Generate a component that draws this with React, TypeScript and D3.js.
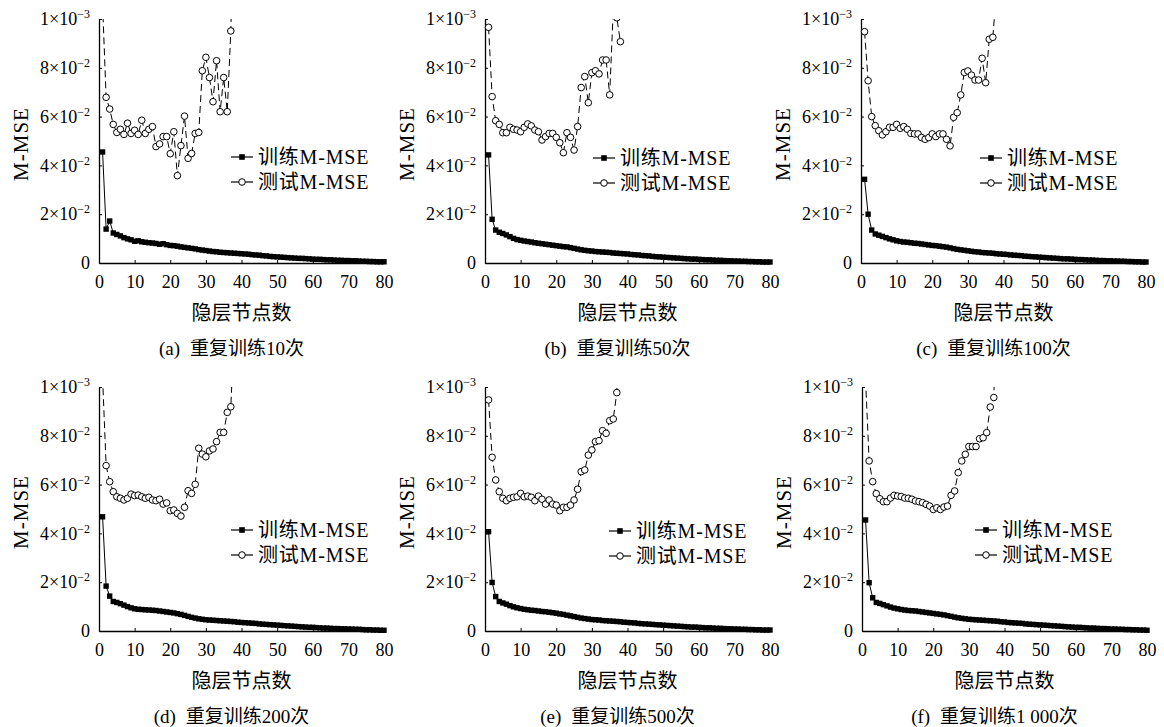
import React, { useEffect, useRef } from "react";
import * as d3 from "d3";

// axis ticks
const xTicks = [0, 10, 20, 30, 40, 50, 60, 70, 80];
const yTicks = [0, 0.02, 0.04, 0.06, 0.08, 0.1];
// labels as printed in the figure (base, superscript)
const yTickLabels = [
  ["0", ""],
  ["2×10", "−2"],
  ["4×10", "−2"],
  ["6×10", "−2"],
  ["8×10", "−2"],
  ["1×10", "−3"],
];

const panelTags = ["(a)", "(b)", "(c)", "(d)", "(e)", "(f)"];
const captions = ["重复训练10次", "重复训练50次", "重复训练100次", "重复训练200次", "重复训练500次", "重复训练1 000次"];
const seriesNames = ["训练M-MSE", "测试M-MSE"];
const xTitle = "隐层节点数";
const yTitle = "M-MSE";

// training M-MSE, hidden nodes 1..80
const trainA = [
  0.0455, 0.0139, 0.0172, 0.0123, 0.0117, 0.0111, 0.0104, 0.0099, 0.0095, 0.0089,
  0.0091, 0.0087, 0.0085, 0.0083, 0.0082, 0.008, 0.0077, 0.0079, 0.0075, 0.0072,
  0.0071, 0.0069, 0.0066, 0.0064, 0.0062, 0.006, 0.0058, 0.0055, 0.0053, 0.0051,
  0.0049, 0.0047, 0.0046, 0.0044, 0.0043, 0.0042, 0.0041, 0.004, 0.0039, 0.0038,
  0.0037, 0.0036, 0.0034, 0.0033, 0.0032, 0.003, 0.0029, 0.0027, 0.0026, 0.0025,
  0.0024, 0.0023, 0.0022, 0.0021, 0.002, 0.0019, 0.0019, 0.0018, 0.0017, 0.0016,
  0.0015, 0.0015, 0.0014, 0.0013, 0.0013, 0.0012, 0.0011, 0.0011, 0.001, 0.001,
  0.0009, 0.0009, 0.0008, 0.0007, 0.0007, 0.0006, 0.0006, 0.0005, 0.0005, 0.0005,
];
const trainB = [
  0.0443, 0.0179, 0.0135, 0.0126, 0.0121, 0.0115, 0.0108, 0.0101, 0.0096, 0.0093,
  0.009, 0.0088, 0.0086, 0.0083, 0.0081, 0.0079, 0.0077, 0.0075, 0.0073, 0.0071,
  0.0069, 0.0067, 0.0066, 0.0063, 0.006, 0.0057, 0.0054, 0.0052, 0.005, 0.0049,
  0.0047, 0.0046, 0.0045, 0.0044, 0.0043, 0.0041, 0.004, 0.0039, 0.0038, 0.0037,
  0.0035, 0.0034, 0.0033, 0.0031, 0.003, 0.0029, 0.0027, 0.0026, 0.0025, 0.0024,
  0.0023, 0.0022, 0.0021, 0.002, 0.0019, 0.0018, 0.0017, 0.0016, 0.0016, 0.0015,
  0.0014, 0.0013, 0.0013, 0.0012, 0.0011, 0.0011, 0.001, 0.0009, 0.0009, 0.0008,
  0.0008, 0.0007, 0.0007, 0.0006, 0.0006, 0.0005, 0.0005, 0.0004, 0.0004, 0.0004,
];
const trainC = [
  0.0343, 0.02, 0.0135, 0.0119, 0.0114, 0.0109, 0.0104, 0.0099, 0.0095, 0.0091,
  0.0088, 0.0086, 0.0085, 0.0083, 0.0081, 0.008, 0.0078, 0.0076, 0.0074, 0.0072,
  0.0071, 0.0069, 0.0067, 0.0065, 0.0062, 0.0059, 0.0056, 0.0054, 0.0052, 0.005,
  0.0048, 0.0046, 0.0045, 0.0043, 0.0042, 0.0041, 0.004, 0.0038, 0.0037, 0.0036,
  0.0035, 0.0033, 0.0032, 0.0031, 0.003, 0.0028, 0.0027, 0.0026, 0.0025, 0.0024,
  0.0023, 0.0022, 0.0021, 0.002, 0.0019, 0.0018, 0.0017, 0.0017, 0.0016, 0.0015,
  0.0014, 0.0014, 0.0013, 0.0012, 0.0012, 0.0011, 0.001, 0.001, 0.0009, 0.0009,
  0.0008, 0.0008, 0.0007, 0.0007, 0.0006, 0.0006, 0.0005, 0.0005, 0.0004, 0.0004,
];
const trainD = [
  0.0468, 0.0184, 0.0143, 0.0121, 0.0117, 0.0112, 0.0106, 0.01, 0.0095, 0.0091,
  0.0089, 0.0088, 0.0087, 0.0086, 0.0085, 0.0084, 0.0082, 0.008, 0.0078, 0.0076,
  0.0074, 0.0071, 0.0068, 0.0064, 0.006, 0.0056, 0.0053, 0.005, 0.0048, 0.0046,
  0.0045, 0.0044, 0.0043, 0.0042, 0.0041, 0.004, 0.0039, 0.0038, 0.0036, 0.0035,
  0.0034, 0.0033, 0.0032, 0.0031, 0.0029, 0.0028, 0.0027, 0.0026, 0.0025, 0.0024,
  0.0023, 0.0022, 0.0021, 0.002, 0.0019, 0.0018, 0.0017, 0.0016, 0.0015, 0.0015,
  0.0014, 0.0013, 0.0012, 0.0012, 0.0011, 0.001, 0.001, 0.0009, 0.0009, 0.0008,
  0.0008, 0.0007, 0.0007, 0.0006, 0.0005, 0.0005, 0.0004, 0.0004, 0.0003, 0.0003,
];
const trainE = [
  0.0407, 0.0199, 0.0141, 0.0121, 0.0115, 0.011, 0.0104, 0.0099, 0.0095, 0.0092,
  0.0089, 0.0087, 0.0085, 0.0084, 0.0082, 0.008, 0.0079, 0.0077, 0.0075, 0.0073,
  0.007, 0.0068, 0.0065, 0.0062, 0.0059, 0.0056, 0.0053, 0.0051, 0.0049, 0.0047,
  0.0046, 0.0045, 0.0043, 0.0042, 0.0041, 0.004, 0.0039, 0.0038, 0.0036, 0.0035,
  0.0034, 0.0033, 0.0031, 0.003, 0.0029, 0.0028, 0.0027, 0.0026, 0.0025, 0.0024,
  0.0023, 0.0022, 0.0021, 0.002, 0.0019, 0.0018, 0.0017, 0.0016, 0.0016, 0.0015,
  0.0014, 0.0013, 0.0013, 0.0012, 0.0011, 0.0011, 0.001, 0.0009, 0.0009, 0.0008,
  0.0008, 0.0007, 0.0007, 0.0006, 0.0006, 0.0005, 0.0005, 0.0004, 0.0004, 0.0004,
];
const trainF = [
  0.0455, 0.0198, 0.0136, 0.0117, 0.0113, 0.0108, 0.0103, 0.0098, 0.0094, 0.0091,
  0.0088, 0.0086, 0.0084, 0.0083, 0.0082, 0.008, 0.0078, 0.0076, 0.0074, 0.0072,
  0.007, 0.0068, 0.0066, 0.0063, 0.006, 0.0057, 0.0054, 0.0052, 0.005, 0.0048,
  0.0047, 0.0046, 0.0045, 0.0044, 0.0043, 0.0042, 0.0041, 0.004, 0.0038, 0.0037,
  0.0035, 0.0034, 0.0033, 0.0032, 0.0031, 0.0029, 0.0028, 0.0027, 0.0026, 0.0025,
  0.0024, 0.0023, 0.0022, 0.0021, 0.002, 0.0019, 0.0018, 0.0017, 0.0016, 0.0015,
  0.0015, 0.0014, 0.0013, 0.0012, 0.0012, 0.0011, 0.001, 0.001, 0.0009, 0.0008,
  0.0008, 0.0007, 0.0007, 0.0006, 0.0006, 0.0005, 0.0005, 0.0004, 0.0004, 0.0003,
];

// test M-MSE, hidden nodes 1..n (values above 0.1 run off the top of the plot)
const testA = [
  0.106, 0.0679, 0.0631, 0.0568, 0.0535, 0.0548, 0.0527, 0.0573, 0.0531, 0.0544,
  0.0527, 0.0585, 0.0531, 0.0548, 0.0559, 0.0477, 0.0488, 0.0518, 0.0518, 0.0448,
  0.0538, 0.0358, 0.0481, 0.0602, 0.0429, 0.0449, 0.0531, 0.0535, 0.0788, 0.0843,
  0.076, 0.0661, 0.0829, 0.062, 0.076, 0.062, 0.0951, 0.15,
];
const testB = [
  0.0966, 0.0682, 0.0583, 0.0568, 0.0534, 0.0534, 0.0556, 0.0548, 0.0545, 0.0538,
  0.0556, 0.057, 0.0562, 0.0545, 0.0538, 0.0504, 0.0518, 0.0531, 0.0531, 0.0515,
  0.0493, 0.0452, 0.0534, 0.0515, 0.0463, 0.0559, 0.0719, 0.0764, 0.0657, 0.078,
  0.0788, 0.0775, 0.0832, 0.0832, 0.0689, 0.104, 0.1005, 0.0907,
];
const testC = [
  0.0948, 0.0747, 0.06, 0.0563, 0.0542, 0.0525, 0.0538, 0.0556, 0.0556, 0.0568,
  0.0552, 0.0559, 0.0548, 0.0531, 0.0529, 0.0529, 0.0514, 0.0507, 0.0514, 0.0529,
  0.0518, 0.0529, 0.0529, 0.0507, 0.048, 0.0597, 0.0616, 0.0689, 0.0781, 0.0787,
  0.077, 0.075, 0.075, 0.0839, 0.0739, 0.0917, 0.0925, 0.111,
];
const testD = [
  0.104, 0.0678, 0.0612, 0.0571, 0.055, 0.0544, 0.0537, 0.0544, 0.0561, 0.0555,
  0.0557, 0.055, 0.0544, 0.0548, 0.0537, 0.0534, 0.054, 0.052, 0.0525, 0.0493,
  0.0496, 0.0482, 0.0471, 0.0507, 0.0575, 0.0564, 0.0601, 0.0749, 0.0725, 0.0714,
  0.0738, 0.0746, 0.0776, 0.0814, 0.0814, 0.0896, 0.0919, 0.125,
];
const testE = [
  0.0947, 0.0712, 0.0619, 0.0571, 0.0544, 0.0534, 0.0544, 0.0548, 0.055, 0.0564,
  0.055, 0.0553, 0.0548, 0.0534, 0.0553, 0.054, 0.052, 0.0537, 0.052, 0.0516,
  0.0493, 0.0507, 0.0507, 0.0516, 0.0537, 0.0581, 0.0653, 0.066, 0.0721, 0.0742,
  0.0776, 0.078, 0.0821, 0.081, 0.0862, 0.0869, 0.0977, 0.15,
];
const testF = [
  0.103, 0.0697, 0.0612, 0.0563, 0.0542, 0.053, 0.053, 0.0545, 0.0556, 0.0553,
  0.0551, 0.0545, 0.0544, 0.054, 0.0533, 0.053, 0.0526, 0.0519, 0.0512, 0.0498,
  0.0505, 0.0498, 0.0508, 0.0512, 0.0556, 0.0574, 0.0649, 0.0697, 0.0724, 0.0756,
  0.0756, 0.0756, 0.0788, 0.0792, 0.0813, 0.0918, 0.0957, 0.15,
];

const trainSeries = [trainA, trainB, trainC, trainD, trainE, trainF];
const testSeries = [testA, testB, testC, testD, testE, testF];

// layout: axis origin (top-left of plot area) and legend anchor per panel
const plotW = 285;
const plotH = 244;
const layout = [
  { ox: 99, oy: 19, lx: 231, ly: 157 },
  { ox: 485, oy: 19, lx: 593, ly: 158 },
  { ox: 861, oy: 19, lx: 980, ly: 158 },
  { ox: 99, oy: 387, lx: 231, ly: 530 },
  { ox: 485, oy: 387, lx: 609, ly: 531 },
  { ox: 862, oy: 387, lx: 975, ly: 530 },
];

const FONT = "'Liberation Serif', 'Times New Roman', 'Noto Sans CJK SC', serif";

const App = () => {
  const svgRef = useRef(null);

  useEffect(() => {
    if (!svgRef.current) return;
    const svg = d3.select(svgRef.current);
    svg.selectAll("*").remove();

    const x = d3.scaleLinear().domain([0, 80]).range([0, plotW]);
    const y = d3.scaleLinear().domain([0, 0.1]).range([plotH, 0]);
    const line = d3
      .line<number>()
      .x((d, i) => x(i + 1))
      .y((d) => y(d));

    const defs = svg.append("defs");

    layout.forEach((p, k) => {
      const clipId = `plot-clip-${k}`;
      defs
        .append("clipPath")
        .attr("id", clipId)
        .append("rect")
        .attr("x", -6)
        .attr("y", 0)
        .attr("width", plotW + 12)
        .attr("height", plotH + 6);

      const g = svg.append("g").attr("transform", `translate(${p.ox},${p.oy})`);

      // x axis
      const xg = g
        .append("g")
        .attr("transform", `translate(0,${plotH})`)
        .call(d3.axisBottom(x).tickValues(xTicks).tickSize(-3).tickSizeOuter(0).tickPadding(12));
      xg.attr("font-family", FONT).attr("font-size", 18);
      xg.selectAll("text").attr("fill", "#000");

      // y axis
      const yg = g
        .append("g")
        .call(d3.axisLeft(y).tickValues(yTicks).tickSize(-3).tickSizeOuter(0).tickPadding(9).tickFormat(() => ""));
      yg.attr("font-family", FONT).attr("font-size", 18);
      yg.selectAll(".tick text").each(function (d, j) {
        const t = d3.select(this);
        t.text(null).attr("fill", "#000");
        const [base, sup] = yTickLabels[j];
        t.append("tspan").text(base);
        if (sup) t.append("tspan").attr("dy", -7).attr("font-size", 12).text(sup);
      });
      [xg, yg].forEach((a) => {
        a.select(".domain").attr("stroke", "#000").attr("stroke-width", 1.3);
        a.selectAll(".tick line").attr("stroke", "#000");
      });

      // data
      const data = g.append("g").attr("clip-path", `url(#${clipId})`);
      const test = testSeries[k];
      const train = trainSeries[k];

      data
        .append("path")
        .attr("d", line(test))
        .attr("fill", "none")
        .attr("stroke", "#000")
        .attr("stroke-width", 1)
        .attr("stroke-dasharray", "7,4");
      data
        .selectAll("circle")
        .data(test)
        .join("circle")
        .attr("cx", (d, i) => x(i + 1))
        .attr("cy", (d) => y(d))
        .attr("r", 3.3)
        .attr("fill", "#fff")
        .attr("stroke", "#000")
        .attr("stroke-width", 1);

      data
        .append("path")
        .attr("d", line(train))
        .attr("fill", "none")
        .attr("stroke", "#000")
        .attr("stroke-width", 1);
      data
        .selectAll("rect.sq")
        .data(train)
        .join("rect")
        .attr("class", "sq")
        .attr("x", (d, i) => x(i + 1) - 2.7)
        .attr("y", (d) => y(d) - 2.7)
        .attr("width", 5.4)
        .attr("height", 5.4)
        .attr("fill", "#000");

      // axis titles
      svg
        .append("text")
        .attr("transform", `translate(${p.ox - 78},${p.oy + plotH / 2 + 3}) rotate(-90)`)
        .attr("text-anchor", "middle")
        .attr("dominant-baseline", "central")
        .attr("font-family", FONT)
        .attr("font-size", 21)
        .attr("letter-spacing", 1)
        .text(yTitle);
      svg
        .append("text")
        .attr("x", p.ox + plotW / 2)
        .attr("y", p.oy + plotH + 50)
        .attr("text-anchor", "middle")
        .attr("dominant-baseline", "central")
        .attr("font-family", FONT)
        .attr("font-size", 20)
        .text(xTitle);
      const cap = svg
        .append("text")
        .attr("x", p.ox + plotW / 2 - 10)
        .attr("y", p.oy + plotH + 85)
        .attr("text-anchor", "middle")
        .attr("dominant-baseline", "central")
        .attr("font-family", FONT)
        .attr("font-size", 19);
      cap.append("tspan").text(panelTags[k]);
      cap.append("tspan").attr("dx", 10).text(captions[k]);

      // legend
      seriesNames.forEach((name, j) => {
        const ly = p.ly + j * 25;
        const lg = svg.append("g");
        lg.append("line")
          .attr("x1", p.lx)
          .attr("x2", p.lx + 22)
          .attr("y1", ly)
          .attr("y2", ly)
          .attr("stroke", "#000")
          .attr("stroke-width", 1.2);
        if (j === 0) {
          lg.append("rect")
            .attr("x", p.lx + 11 - 2.8)
            .attr("y", ly - 2.8)
            .attr("width", 5.6)
            .attr("height", 5.6)
            .attr("fill", "#000");
        } else {
          lg.append("circle")
            .attr("cx", p.lx + 11)
            .attr("cy", ly)
            .attr("r", 3.3)
            .attr("fill", "#fff")
            .attr("stroke", "#000");
        }
        lg.append("text")
          .attr("x", p.lx + 27)
          .attr("y", ly)
          .attr("dominant-baseline", "central")
          .attr("font-family", FONT)
          .attr("font-size", 20)
          .attr("letter-spacing", 0.8)
          .text(name);
      });
    });
  }, []);

  return (
    <svg
      ref={svgRef}
      width={1164}
      height={727}
      style={{ position: "absolute", left: 0, top: 0, background: "#fff" }}
    ></svg>
  );
};

export default App;
